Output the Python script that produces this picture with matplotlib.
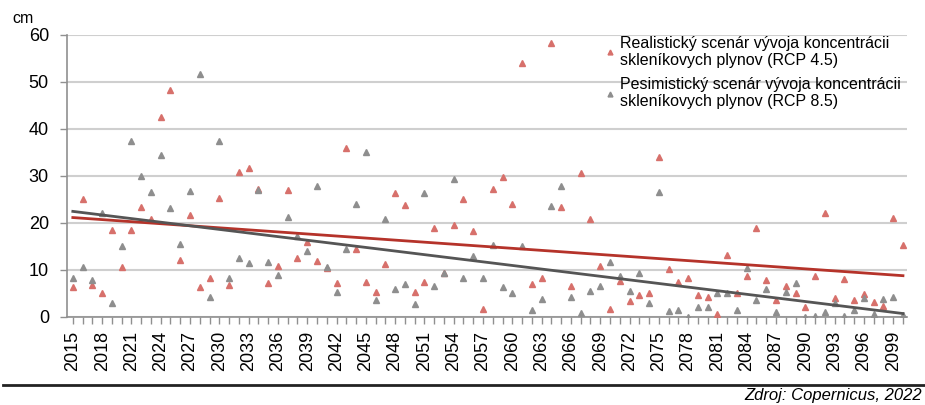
import matplotlib
matplotlib.use("Agg")
import matplotlib.pyplot as plt
import numpy as np

# sea level anomaly per year, two emission scenarios (cm)
years = np.arange(2015, 2101)

rcp45 = [
    6.3, 25.1, 6.8, 5.2, 18.5, 10.7, 18.5, 23.5, 20.9, 42.5,
    48.3, 12.1, 21.7, 6.3, 8.4, 25.3, 6.9, 30.8, 31.6, 27.3,
    7.2, 10.9, 27.0, 12.6, 16.0, 12.0, 10.5, 7.3, 36.0, 14.4,
    7.5, 5.4, 11.2, 26.3, 23.8, 5.3, 7.5, 19.0, 9.3, 19.6,
    25.0, 18.2, 1.7, 27.2, 29.7, 24.0, 54.1, 7.0, 8.2, 58.2,
    23.5, 6.6, 30.7, 20.9, 10.9, 1.6, 7.7, 3.3, 4.7, 5.0,
    34.1, 10.3, 7.4, 8.4, 4.7, 4.3, 0.6, 13.2, 5.2, 8.8,
    18.9, 7.9, 3.6, 6.5, 5.0, 2.1, 8.7, 22.1, 4.0, 8.0,
    3.6, 4.9, 3.1, 2.3, 21.0, 15.3,
]

rcp85 = [
    8.2, 10.7, 7.9, 22.1, 2.9, 15.2, 37.4, 30.0, 26.7, 34.5,
    23.1, 15.5, 26.8, 51.6, 4.2, 37.4, 8.3, 12.6, 11.4, 27.0,
    11.8, 8.9, 21.2, 17.3, 14.1, 27.9, 10.6, 5.3, 14.5, 24.0,
    35.0, 3.6, 20.9, 6.0, 7.0, 2.7, 26.3, 6.5, 9.3, 29.4,
    8.2, 13.0, 8.4, 15.3, 6.3, 5.0, 15.1, 1.5, 3.8, 23.7,
    27.9, 4.3, 0.8, 5.5, 6.6, 11.8, 8.8, 5.5, 9.4, 3.0,
    26.5, 1.2, 1.4, 0.1, 2.2, 2.1, 5.0, 5.2, 1.5, 10.5,
    3.6, 6.0, 1.1, 5.4, 7.2, 0.1, 0.2, 1.1, 2.9, 0.2,
    1.5, 4.0, 0.6, 3.8, 4.3, 0.5,
]

label45 = "Realistický scenár vývoja koncentrácii\nskleníkovych plynov (RCP 4.5)"
label85 = "Pesimistický scenár vývoja koncentrácii\nskleníkovych plynov (RCP 8.5)"

plt.rcParams['font.family'] = ['Liberation Sans Narrow', 'Liberation Sans', 'DejaVu Sans']

red_pt = '#d7706b'
gray_pt = '#8e8e8e'
red_ln = '#b5332a'
gray_ln = '#555555'

fig = plt.figure(figsize=(9.25, 4.05), dpi=100)
ax = fig.add_axes([0.0724, 0.2173, 0.908, 0.6963])

ax.plot(years, rcp45, linestyle='none', marker='^', ms=5, color=red_pt,
        mec=red_pt, label=label45, zorder=3)
ax.plot(years, rcp85, linestyle='none', marker='^', ms=5, color=gray_pt,
        mec=gray_pt, label=label85, zorder=3)

# linear trend lines
for vals, col in [(rcp45, red_ln), (rcp85, gray_ln)]:
    k, q = np.polyfit(years, vals, 1)
    ax.plot([years[0], years[-1]], [k * years[0] + q, k * years[-1] + q],
            color=col, lw=2, zorder=4)

ax.set_xlim(2014.4, 2100.4)
ax.set_ylim(0, 60)
ax.set_yticks(range(0, 61, 10))
ax.set_xticks(years[::3])
ax.set_xticks(years, minor=True)
ax.tick_params(axis='x', which='both', length=5, color='#909090', width=1, pad=5,
               labelrotation=90, labelsize=13)
ax.tick_params(axis='y', length=5, color='#909090', width=1, pad=8, labelsize=13)

ax.grid(axis='y', color='#cfcfcf', lw=1.5, zorder=0)
ax.set_axisbelow(True)
for side in ['top', 'right']:
    ax.spines[side].set_visible(False)
for side in ['left', 'bottom']:
    ax.spines[side].set_color('#909090')
    ax.spines[side].set_linewidth(1.2)

fig.text(0.013, 0.935, "cm", fontsize=11.5, ha='left', va='bottom')

leg = ax.legend(loc='upper right', bbox_to_anchor=(1.0, 1.02), frameon=False,
                fontsize=11.5, markerscale=0.7, handlelength=0.6, handletextpad=0.3,
                labelspacing=0.55, borderaxespad=0)

# separator line and source note
fig.add_artist(plt.Line2D([0.003, 1.0], [0.049, 0.049], transform=fig.transFigure,
                          color='#222222', lw=2))
fig.text(0.997, 0.004, "Zdroj: Copernicus, 2022", fontsize=12, style='italic',
         ha='right', va='bottom')

fig.savefig("out.png", dpi=100)
